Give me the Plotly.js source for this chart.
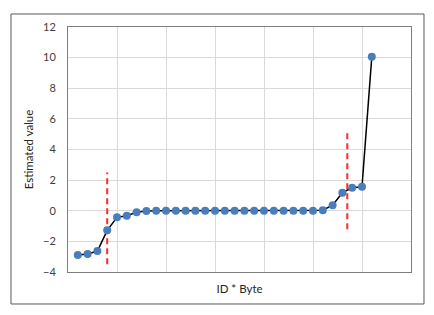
<!DOCTYPE html>
<html>
<head>
<meta charset="utf-8">
<script src="https://cdn.plot.ly/plotly-3.0.1.min.js"></script>
<style>html,body{margin:0;padding:0;background:#fff;}#chart{width:434px;height:315px;}</style>
</head>
<body>
<div id="chart"></div>
<script>
const ids = [1,2,3,4,5,6,7,8,9,10,11,12,13,14,15,16,17,18,19,20,21,22,23,24,25,26,27,28,29,30,31];
const estimates = [-2.89,-2.82,-2.63,-1.28,-0.43,-0.32,-0.10,-0.01,0,0,0,0,0,0,0,0,0,0,0,0,0,0,0,0,0,0.04,0.36,1.18,1.50,1.57,10.05];
const cutLeftX = [4,4];
const cutLeftY = [-3.5,2.5];
const cutRightX = [28.5,28.5];
const cutRightY = [-1.2,5.2];
const yTicks = [-4,-2,0,2,4,6,8,10,12];

const traces = [
  {x: cutLeftX, y: cutLeftY, mode:'lines', line:{color:'#ff2a2a', width:2, dash:'6px,4px'}, hoverinfo:'skip'},
  {x: cutRightX, y: cutRightY, mode:'lines', line:{color:'#ff2a2a', width:2, dash:'6px,4px'}, hoverinfo:'skip'},
  {x: ids, y: estimates, mode:'lines+markers', line:{color:'#000000', width:1.5}, marker:{color:'#4a7ebb', size:8}}
];
const layout = {
  width:434, height:315,
  margin:{l:68, r:23, t:27, b:43},
  showlegend:false,
  paper_bgcolor:'#ffffff', plot_bgcolor:'#ffffff',
  font:{family:'Lato, "Open Sans", sans-serif', size:11, color:'#404040'},
  xaxis:{range:[0,35], dtick:5, tick0:0, showticklabels:false, showgrid:true, gridcolor:'#d9d9d9', gridwidth:1,
         zeroline:false, showline:true, linecolor:'#7f7f7f', linewidth:1, mirror:true,
         title:{text:'ID * Byte', standoff:12, font:{size:11.5, color:'#262626'}}},
  yaxis:{range:[-4,12], tickvals:yTicks, showgrid:true, gridcolor:'#d9d9d9', gridwidth:1,
         zeroline:false, showline:true, linecolor:'#7f7f7f', linewidth:1, mirror:true,
         ticks:'outside', ticklen:9, tickcolor:'rgba(0,0,0,0)', tickfont:{size:11, color:'#404040'},
         title:{text:'Estimated value', standoff:7, font:{size:11.5, color:'#262626'}}},
  shapes:[{type:'rect', xref:'paper', yref:'paper', x0:-0.1662, x1:1.0379, y0:-0.1306, y1:1.0531,
           line:{color:'#595959', width:1}, fillcolor:'rgba(0,0,0,0)', layer:'below'}]
};
Plotly.newPlot('chart', traces, layout, {displayModeBar:false, staticPlot:true});
</script>
</body>
</html>
